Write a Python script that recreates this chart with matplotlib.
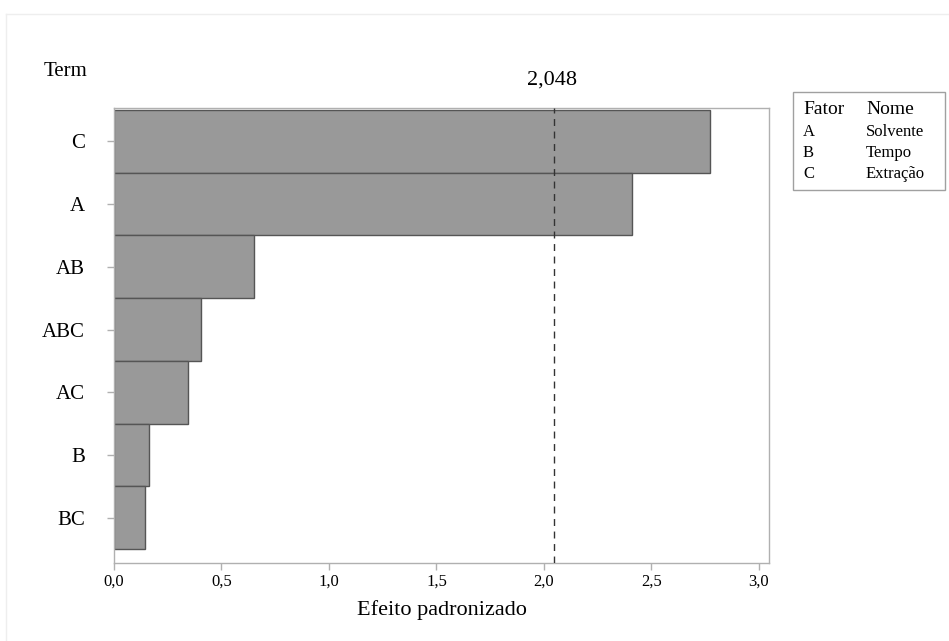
import matplotlib.pyplot as plt
from matplotlib.patches import Rectangle

plt.rcParams['font.family'] = ['Liberation Serif', 'DejaVu Serif']

# efeitos padronizados (Pareto), de cima para baixo
termos = ["C", "A", "AB", "ABC", "AC", "B", "BC"]
efeitos = [2.772, 2.409, 0.651, 0.405, 0.344, 0.163, 0.144]
t_critico = 2.048

fatores = ["A", "B", "C"]
nomes = ["Solvente", "Tempo", "Extração"]

xticks = [0.0, 0.5, 1.0, 1.5, 2.0, 2.5, 3.0]

fig = plt.figure(figsize=(9.49, 6.41), dpi=100)
ax = fig.add_axes([114/949, 1 - 563/641, (769-114)/949, (563-108)/641])

pos = list(range(len(termos)))
ax.barh(pos, efeitos, height=1.0, color='#999999', edgecolor='#555555', linewidth=1.0, zorder=2)
ax.axvline(t_critico, color='#333333', linestyle=(0, (5, 4)), linewidth=1.0, zorder=3)

ax.set_xlim(0, 3.047)
ax.set_ylim(6.72, -0.53)
ax.set_yticks(pos)
ax.set_yticklabels(termos, fontsize=15)
ax.set_xticks(xticks)
ax.set_xticklabels([f"{v:.1f}".replace('.', ',') for v in xticks], fontsize=12)
ax.tick_params(axis='both', color='#b0b0b0', length=5, width=1)
ax.tick_params(axis='y', pad=16)
ax.tick_params(axis='x', pad=3)
for s in ax.spines.values():
    s.set_color('#b0b0b0')
    s.set_linewidth(1)

ax.set_xlabel("Efeito padronizado", fontsize=16, labelpad=7)
fig.text(552/949, 1 - 80/641, f"{t_critico:.3f}".replace('.', ','), ha='center', va='center', fontsize=16)
fig.text(66/949, 1 - 72/641, "Term", ha='center', va='center', fontsize=15)

# quadro com os nomes dos fatores
fig.patches.append(Rectangle((793/949, 1 - 190/641), 152/949, 98/641, transform=fig.transFigure,
                             fill=False, edgecolor='#a0a0a0', linewidth=1))
fig.text(803/949, 1 - 109/641, "Fator", fontsize=14, va='center')
fig.text(866/949, 1 - 109/641, "Nome", fontsize=14, va='center')
for i, (f, n) in enumerate(zip(fatores, nomes)):
    y = 1 - (132 + 21*i)/641
    fig.text(803/949, y, f, fontsize=12, va='center')
    fig.text(866/949, y, n, fontsize=12, va='center')

# moldura clara em volta da figura
fig.add_artist(plt.Line2D([6/949, 1], [1 - 14/641, 1 - 14/641], transform=fig.transFigure, color='#eeeeee', lw=1))
fig.add_artist(plt.Line2D([6/949, 6/949], [0, 1 - 14/641], transform=fig.transFigure, color='#eeeeee', lw=1))

fig.savefig("out.png", dpi=100)
